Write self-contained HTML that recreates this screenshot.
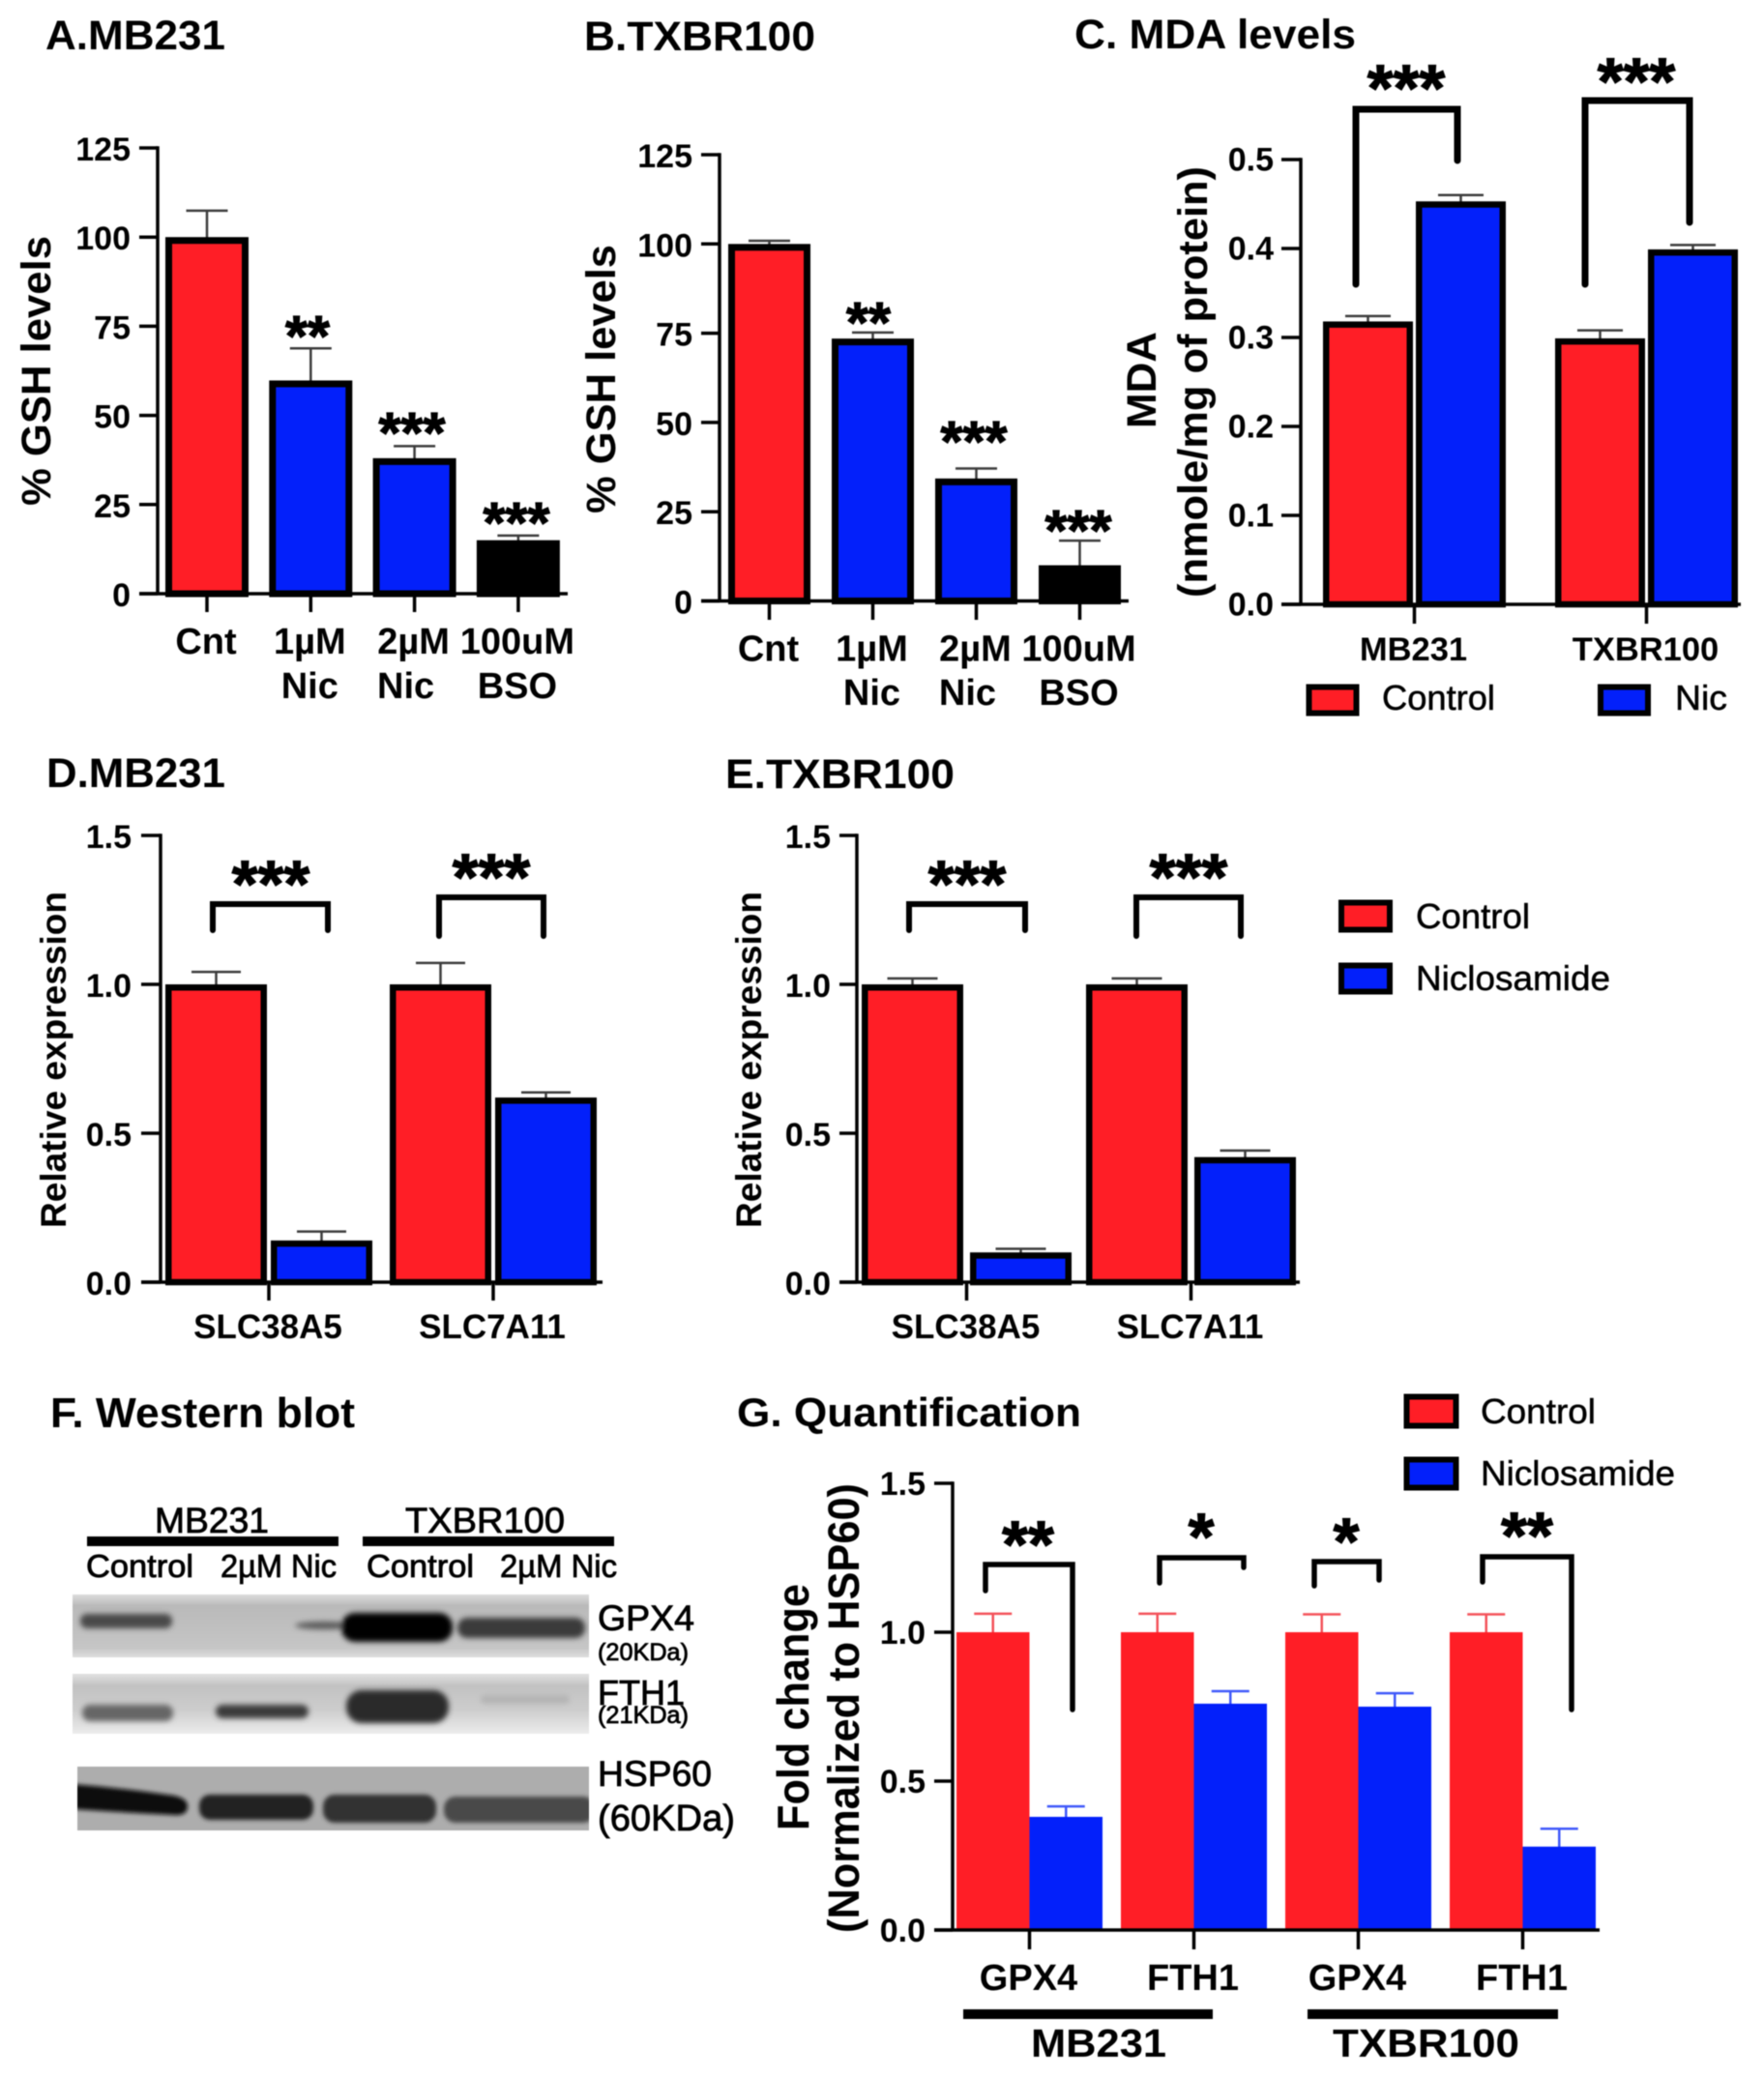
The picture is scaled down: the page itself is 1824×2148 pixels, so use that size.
<!DOCTYPE html>
<html lang="en">
<head>
<meta charset="utf-8">
<title>Niclosamide GSH, MDA and protein expression panels</title>
<style>
html,body{margin:0;padding:0;background:#fff;}
svg{display:block;filter:blur(0.6px);}
text{font-family:"Liberation Sans",sans-serif;fill:#000;}
.b{font-weight:700;}
.bracket{fill:none;stroke:#000;stroke-linecap:round;stroke-linejoin:miter;}
.med{stroke:#000;stroke-width:0.8px;}
.leg{stroke:#000;stroke-width:0.5px;}
.star{stroke:#000;stroke-width:1.2px;}
</style>
</head>
<body>
<svg id="figure" xmlns="http://www.w3.org/2000/svg" width="1824" height="2148" viewBox="0 0 1824 2148">
<defs>
<filter id="blot-blur" x="-20%" y="-80%" width="140%" height="260%"><feGaussianBlur stdDeviation="3"/></filter>
<filter id="edge-blur" x="-5%" y="-15%" width="110%" height="130%"><feGaussianBlur stdDeviation="2"/></filter>
<linearGradient id="blot-bg" x1="0" y1="0" x2="0" y2="1">
<stop offset="0" stop-color="#dcdcdc"/><stop offset="0.18" stop-color="#bababa"/><stop offset="0.55" stop-color="#c0c0c0"/><stop offset="0.85" stop-color="#c6c6c6"/><stop offset="1" stop-color="#dedede"/>
</linearGradient>
<linearGradient id="blot-bg2" x1="0" y1="0" x2="0" y2="1">
<stop offset="0" stop-color="#e2e2e2"/><stop offset="0.2" stop-color="#c2c2c2"/><stop offset="0.6" stop-color="#cdcdcd"/><stop offset="1" stop-color="#ececec"/>
</linearGradient>
<clipPath id="clip-gpx4"><rect x="75" y="1649" width="534" height="65"/></clipPath>
<clipPath id="clip-fth1"><rect x="75" y="1731" width="534" height="62"/></clipPath>
<clipPath id="clip-hsp60"><rect x="80" y="1827" width="529" height="66"/></clipPath>
</defs>

<!-- Panel titles -->
<text class="b" x="47" y="51" font-size="43" textLength="186" lengthAdjust="spacingAndGlyphs">A.MB231</text>
<text class="b" x="604" y="52" font-size="43" textLength="239" lengthAdjust="spacingAndGlyphs">B.TXBR100</text>
<text class="b" x="1111" y="50" font-size="43" textLength="291" lengthAdjust="spacingAndGlyphs">C. MDA levels</text>
<text class="b" x="48" y="814" font-size="43" textLength="185" lengthAdjust="spacingAndGlyphs">D.MB231</text>
<text class="b" x="750" y="815" font-size="43" textLength="237" lengthAdjust="spacingAndGlyphs">E.TXBR100</text>
<text class="b" x="52" y="1476" font-size="44" textLength="315" lengthAdjust="spacingAndGlyphs">F. Western blot</text>
<text class="b" x="762" y="1475" font-size="42" textLength="356" lengthAdjust="spacingAndGlyphs">G. Quantification</text>

<!-- Y-axis titles -->
<text class="b" transform="translate(52,523) rotate(-90)" font-size="43" textLength="279" lengthAdjust="spacingAndGlyphs">% GSH levels</text>
<text class="b" transform="translate(636,531) rotate(-90)" font-size="43" textLength="278" lengthAdjust="spacingAndGlyphs">% GSH levels</text>
<text class="b" transform="translate(1195,443) rotate(-90)" font-size="43" textLength="100" lengthAdjust="spacingAndGlyphs">MDA</text>
<text class="b" transform="translate(1248,618) rotate(-90)" font-size="43" textLength="446" lengthAdjust="spacingAndGlyphs">(nmole/mg of protein)</text>
<text class="b" transform="translate(68,1270) rotate(-90)" font-size="37" textLength="348" lengthAdjust="spacingAndGlyphs">Relative expression</text>
<text class="b" transform="translate(787,1270) rotate(-90)" font-size="37" textLength="348" lengthAdjust="spacingAndGlyphs">Relative expression</text>
<text class="b" transform="translate(836,1893) rotate(-90)" font-size="46" textLength="255" lengthAdjust="spacingAndGlyphs">Fold change</text>
<text class="b" transform="translate(888,1999) rotate(-90)" font-size="45" textLength="465" lengthAdjust="spacingAndGlyphs">(Normalized to HSP60)</text>

<!-- Chart plots filled by script -->
<g id="plot-a"></g>
<g id="plot-b"></g>
<g id="plot-c"></g>
<g id="plot-d"></g>
<g id="plot-e"></g>
<g id="plot-g"></g>

<!-- Significance stars -->
<g text-anchor="middle" font-size="59">
<text class="b star" x="318" y="368">**</text>
<text class="b star" x="426" y="468">***</text>
<text class="b star" x="534" y="561">***</text>
<text class="b star" x="898" y="354">**</text>
<text class="b star" x="1007" y="477">***</text>
<text class="b star" x="1115" y="569">***</text>
</g>
<g text-anchor="middle" font-size="69">
<text class="b star" x="1454" y="115">***</text>
<text class="b star" x="1692" y="108">***</text>
<text class="b star" x="280" y="938">***</text>
<text class="b star" x="508" y="931">***</text>
<text class="b star" x="1000" y="938">***</text>
<text class="b star" x="1229" y="931">***</text>
<text class="b star" x="1063" y="1621">**</text>
<text class="b star" x="1242" y="1613">*</text>
<text class="b star" x="1392" y="1618">*</text>
<text class="b star" x="1579" y="1612">**</text>
</g>

<!-- Brackets -->
<path class="bracket" stroke-width="7" d="M1402 294V113H1507V166"/>
<path class="bracket" stroke-width="7" d="M1639 294V104H1747V230"/>
<path class="bracket" stroke-width="6" d="M220 962V935H339V962"/>
<path class="bracket" stroke-width="6" d="M454 968V928H562V968"/>
<path class="bracket" stroke-width="6" d="M940 962V935H1060V962"/>
<path class="bracket" stroke-width="6" d="M1175 968V928H1283V968"/>
<path class="bracket" stroke-width="5.5" d="M1019 1645V1618H1109V1768"/>
<path class="bracket" stroke-width="5.5" d="M1199 1637V1611H1286V1621"/>
<path class="bracket" stroke-width="5.5" d="M1359 1640V1615H1426V1634"/>
<path class="bracket" stroke-width="5.5" d="M1533 1636V1610H1625V1768"/>

<!-- Legends -->
<g>
<rect x="1353.5" y="710.5" width="49" height="27" fill="#ff1e26" stroke="#000" stroke-width="6"/>
<text class="leg" x="1429" y="734" font-size="36" textLength="117" lengthAdjust="spacingAndGlyphs">Control</text>
<rect x="1655" y="710.5" width="49" height="27" fill="#0320fa" stroke="#000" stroke-width="6"/>
<text class="leg" x="1732" y="734" font-size="36" textLength="54" lengthAdjust="spacingAndGlyphs">Nic</text>
</g>
<g>
<rect x="1387" y="933.5" width="50" height="28" fill="#ff1e26" stroke="#000" stroke-width="6"/>
<text class="leg" x="1464" y="960" font-size="36" textLength="118" lengthAdjust="spacingAndGlyphs">Control</text>
<rect x="1387" y="998.5" width="50" height="27" fill="#0320fa" stroke="#000" stroke-width="6"/>
<text class="leg" x="1464" y="1024" font-size="36" textLength="201" lengthAdjust="spacingAndGlyphs">Niclosamide</text>
</g>
<g>
<rect x="1454.5" y="1444.5" width="51" height="30" fill="#ff1e26" stroke="#000" stroke-width="6"/>
<text class="leg" x="1531" y="1472" font-size="36" textLength="119" lengthAdjust="spacingAndGlyphs">Control</text>
<rect x="1454.5" y="1509.5" width="51" height="29" fill="#0320fa" stroke="#000" stroke-width="6"/>
<text class="leg" x="1531" y="1536" font-size="36" textLength="201" lengthAdjust="spacingAndGlyphs">Niclosamide</text>
</g>

<!-- Panel G cell line grouping -->
<rect x="996" y="2078" width="258" height="10" fill="#000"/>
<rect x="1352" y="2078" width="259" height="10" fill="#000"/>
<text class="b" x="1066" y="2127" font-size="41" textLength="140" lengthAdjust="spacingAndGlyphs">MB231</text>
<text class="b" x="1378" y="2127" font-size="41" textLength="193" lengthAdjust="spacingAndGlyphs">TXBR100</text>

<!-- Panel F western blot -->
<g>
<text class="med" x="160" y="1585" font-size="37" textLength="118" lengthAdjust="spacingAndGlyphs">MB231</text>
<text class="med" x="419" y="1585" font-size="37" textLength="165" lengthAdjust="spacingAndGlyphs">TXBR100</text>
<rect x="90" y="1589" width="260" height="10" fill="#000"/>
<rect x="375" y="1589" width="260" height="10" fill="#000"/>
<text class="med" x="89" y="1631" font-size="33" textLength="111" lengthAdjust="spacingAndGlyphs">Control</text>
<text class="med" x="228" y="1631" font-size="33" textLength="120" lengthAdjust="spacingAndGlyphs">2µM Nic</text>
<text class="med" x="379" y="1631" font-size="33" textLength="111" lengthAdjust="spacingAndGlyphs">Control</text>
<text class="med" x="517" y="1631" font-size="33" textLength="121" lengthAdjust="spacingAndGlyphs">2µM Nic</text>

<g clip-path="url(#clip-gpx4)">
<rect x="75" y="1649" width="534" height="65" fill="url(#blot-bg)"/>
<g filter="url(#blot-blur)">
<rect x="83" y="1669" width="95" height="15" rx="7" fill="#4a4a4a"/>
<ellipse cx="335" cy="1681" rx="30" ry="4" fill="#5a5a5a"/>
<rect x="353" y="1668" width="115" height="30" rx="14" fill="#000"/>
<rect x="473" y="1673" width="132" height="21" rx="10" fill="#3a3a3a"/>
</g>
</g>
<g clip-path="url(#clip-fth1)">
<rect x="75" y="1731" width="534" height="62" fill="url(#blot-bg2)"/>
<g filter="url(#blot-blur)">
<rect x="85" y="1763" width="94" height="17" rx="8" fill="#666"/>
<rect x="223" y="1763" width="96" height="14" rx="7" fill="#3a3a3a"/>
<rect x="358" y="1748" width="106" height="34" rx="16" fill="#2c2c2c"/>
<rect x="497" y="1753" width="92" height="9" rx="4" fill="#b4b4b4"/>
</g>
</g>
<g clip-path="url(#clip-hsp60)">
<rect x="80" y="1827" width="529" height="66" fill="#adadad"/>
<g filter="url(#edge-blur)">
<path d="M60 1844Q120 1848 180 1857Q194 1860 194 1868Q194 1878 180 1877Q120 1874 60 1870Z" fill="#0c0c0c"/>
<rect x="206" y="1856" width="118" height="26" rx="11" fill="#222"/>
<rect x="334" y="1856" width="117" height="29" rx="12" fill="#333"/>
<rect x="459" y="1858" width="156" height="27" rx="12" fill="#484848"/>
</g>
</g>
<text class="med" x="618" y="1686" font-size="37" textLength="100" lengthAdjust="spacingAndGlyphs">GPX4</text>
<text class="med" x="618" y="1717" font-size="25" textLength="94" lengthAdjust="spacingAndGlyphs">(20KDa)</text>
<text class="med" x="618" y="1763" font-size="36" textLength="90" lengthAdjust="spacingAndGlyphs">FTH1</text>
<text class="med" x="618" y="1782" font-size="25" textLength="94" lengthAdjust="spacingAndGlyphs">(21KDa)</text>
<text class="med" x="618" y="1847" font-size="37" textLength="118" lengthAdjust="spacingAndGlyphs">HSP60</text>
<text class="med" x="618" y="1893" font-size="38" textLength="142" lengthAdjust="spacingAndGlyphs">(60KDa)</text>
</g>
</svg>

<script>
// Panel A
const aCategories = [['Cnt'], ['1µM', 'Nic'], ['2µM', 'Nic'], ['100uM', 'BSO']];
const aTickLabels = ['0', '25', '50', '75', '100', '125'];
const aValues = [100, 59.8, 38, 15];
const aErrors = [7.4, 9, 3.4, 1.3];

// Panel B
const bCategories = [['Cnt'], ['1µM', 'Nic'], ['2µM', 'Nic'], ['100uM', 'BSO']];
const bTickLabels = ['0', '25', '50', '75', '100', '125'];
const bValues = [100, 73.5, 34.3, 10];
const bErrors = [0.9, 1.7, 2.8, 6.9];

// Panel C
const cCategories = [['MB231'], ['TXBR100']];
const cTickLabels = ['0.0', '0.1', '0.2', '0.3', '0.4', '0.5'];
const cControlValues = [0.318, 0.299];
const cControlErrors = [0.006, 0.009];
const cNicValues = [0.453, 0.399];
const cNicErrors = [0.007, 0.005];

// Panel D
const dCategories = [['SLC38A5'], ['SLC7A11']];
const dTickLabels = ['0.0', '0.5', '1.0', '1.5'];
const dControlValues = [1, 1];
const dControlErrors = [0.042, 0.072];
const dNicValues = [0.14, 0.62];
const dNicErrors = [0.03, 0.017];

// Panel E
const eCategories = [['SLC38A5'], ['SLC7A11']];
const eTickLabels = ['0.0', '0.5', '1.0', '1.5'];
const eControlValues = [1, 1];
const eControlErrors = [0.02, 0.02];
const eNicValues = [0.1, 0.42];
const eNicErrors = [0.012, 0.022];

// Panel G
const gCategories = [['GPX4'], ['FTH1'], ['GPX4'], ['FTH1']];
const gTickLabels = ['0.0', '0.5', '1.0', '1.5'];
const gControlValues = [1, 1, 1, 1];
const gControlErrors = [0.062, 0.062, 0.06, 0.06];
const gNicValues = [0.38, 0.76, 0.75, 0.28];
const gNicErrors = [0.035, 0.042, 0.045, 0.06];

const RED = '#ff1e26';
const BLUE = '#0320fa';
const BLACK = '#000000';
const NS = 'http://www.w3.org/2000/svg';

function make(tag, attrs, parent) {
  const node = document.createElementNS(NS, tag);
  for (const key in attrs) node.setAttribute(key, attrs[key]);
  parent.appendChild(node);
  return node;
}

function drawChart(o) {
  const root = document.getElementById(o.root);
  const yScale = function (v) {
    return o.yBottom - (v / o.yMax) * (o.yBottom - o.yTop);
  };
  const barLeft = function (g, s) {
    return o.start + g * o.groupStep + s * o.barStep;
  };
  const groupCenter = function (g) {
    return o.start + g * o.groupStep + ((o.series.length - 1) * o.barStep + o.barWidth) / 2;
  };

  o.series.forEach(function (ser, s) {
    ser.values.forEach(function (value, g) {
      const x = barLeft(g, s);
      const y = yScale(value);
      const cx = x + o.barWidth / 2;
      const yTopErr = yScale(value + ser.errors[g]);
      const color = o.errorColor ? o.errorColor(s) : '#3c3c3c';

      const stem = make('line', { x1: cx, x2: cx, y1: y + 2, y2: yTopErr, stroke: color, 'stroke-width': o.errWidth }, root);
      
      

      const cap = make('line', { x1: cx - o.capWidth / 2, x2: cx + o.capWidth / 2, y1: yTopErr, y2: yTopErr, stroke: color, 'stroke-width': o.errWidth }, root);
      
      

      const sw = o.barStroke;
      const bar = make('rect', {
        x: x + sw / 2,
        y: y + sw / 2,
        width: o.barWidth - sw,
        height: Math.max(0, o.yBottom - y - sw / 2),
        fill: o.fill(g, s),
        stroke: sw ? '#000' : 'none',
        'stroke-width': sw
      }, root);
      
      
    });
  });

  const yAxis = make('line', { x1: o.axisX, x2: o.axisX, y1: o.yTop - o.axisWidth / 2, y2: o.yBottom, stroke: '#000', 'stroke-width': o.axisWidth }, root);
  
  

  const xAxis = make('line', { x1: o.tickLeft, x2: o.xEnd, y1: o.yBottom, y2: o.yBottom, stroke: '#000', 'stroke-width': o.axisWidth }, root);
  
  

  o.tickLabels.forEach(function (label) {
    const y = yScale(parseFloat(label));
    const tick = make('line', { x1: o.tickLeft, x2: o.axisX, y1: y, y2: y, stroke: '#000', 'stroke-width': o.axisWidth }, root);
    
    

    const text = make('text', { x: o.labelRight, y: y + o.labelDrop, 'text-anchor': 'end', 'font-size': 34, class: 'b' }, root);
    text.textContent = label;
    
    
  });

  o.categories.forEach(function (lines, g) {
    const cx = groupCenter(g);
    const tick = make('line', { x1: cx, x2: cx, y1: o.yBottom, y2: o.tickBottom, stroke: '#000', 'stroke-width': o.axisWidth }, root);
    
    

    lines.forEach(function (line, n) {
      const shift = o.labelShift ? o.labelShift(g, n) : 0;
      const text = make('text', { x: cx + shift - 1, y: o.catBaseline + n * o.catLine, 'text-anchor': 'middle', 'font-size': o.catSize, class: 'b' }, root);
      text.textContent = line;
      
      
    });
  });
}

function drugFill(g) {
  return g === 0 ? RED : (g === 3 ? BLACK : BLUE);
}
function seriesFill(g, s) {
  return s === 0 ? RED : BLUE;
}
function nicShift(g, n) {
  return g === 2 && n === 1 ? -8 : 0;
}

drawChart({
  key: 'panel-a', root: 'plot-a', categories: aCategories, tickLabels: aTickLabels,
  series: [{ values: aValues, errors: aErrors }], fill: drugFill, labelShift: nicShift,
  yMax: 125, yTop: 153, yBottom: 614, axisX: 163, tickLeft: 144, xEnd: 587, tickBottom: 633,
  start: 171, groupStep: 107.3, barStep: 0, barWidth: 86, barStroke: 7,
  capWidth: 43, errWidth: 2.5, axisWidth: 3.5, labelRight: 135, labelDrop: 13,
  catBaseline: 676, catLine: 46, catSize: 38
});
drawChart({
  key: 'panel-b', root: 'plot-b', categories: bCategories, tickLabels: bTickLabels,
  series: [{ values: bValues, errors: bErrors }], fill: drugFill, labelShift: nicShift,
  yMax: 125, yTop: 160, yBottom: 621.5, axisX: 744, tickLeft: 725, xEnd: 1167, tickBottom: 641,
  start: 753, groupStep: 107, barStep: 0, barWidth: 85, barStroke: 7,
  capWidth: 43, errWidth: 2.5, axisWidth: 3.5, labelRight: 716, labelDrop: 13,
  catBaseline: 683.5, catLine: 45.5, catSize: 38
});
drawChart({
  key: 'panel-c', root: 'plot-c', categories: cCategories, tickLabels: cTickLabels,
  series: [{ values: cControlValues, errors: cControlErrors }, { values: cNicValues, errors: cNicErrors }], fill: seriesFill,
  yMax: 0.5, yTop: 165, yBottom: 625, axisX: 1345, tickLeft: 1325, xEnd: 1800, tickBottom: 645,
  start: 1368, groupStep: 240, barStep: 96, barWidth: 93, barStroke: 6.5,
  capWidth: 47, errWidth: 2.5, axisWidth: 3.5, labelRight: 1317, labelDrop: 11.5,
  catBaseline: 683, catLine: 0, catSize: 34.5
});
drawChart({
  key: 'panel-d', root: 'plot-d', categories: dCategories, tickLabels: dTickLabels,
  series: [{ values: dControlValues, errors: dControlErrors }, { values: dNicValues, errors: dNicErrors }], fill: seriesFill,
  yMax: 1.5, yTop: 864, yBottom: 1326, axisX: 166, tickLeft: 146, xEnd: 623, tickBottom: 1345,
  start: 171, groupStep: 232, barStep: 109, barWidth: 105, barStroke: 6.5,
  capWidth: 51, errWidth: 2.5, axisWidth: 3.5, labelRight: 136, labelDrop: 13,
  catBaseline: 1384, catLine: 0, catSize: 35
});
drawChart({
  key: 'panel-e', root: 'plot-e', categories: eCategories, tickLabels: eTickLabels,
  series: [{ values: eControlValues, errors: eControlErrors }, { values: eNicValues, errors: eNicErrors }], fill: seriesFill,
  yMax: 1.5, yTop: 864, yBottom: 1326, axisX: 886, tickLeft: 868, xEnd: 1344, tickBottom: 1345,
  start: 891, groupStep: 232, barStep: 112, barWidth: 105, barStroke: 6.5,
  capWidth: 52, errWidth: 2.5, axisWidth: 3.5, labelRight: 859, labelDrop: 13,
  catBaseline: 1384, catLine: 0, catSize: 35
});
drawChart({
  key: 'panel-g', root: 'plot-g', categories: gCategories, tickLabels: gTickLabels,
  series: [{ values: gControlValues, errors: gControlErrors }, { values: gNicValues, errors: gNicErrors }], fill: seriesFill,
  errorColor: function (s) { return s === 0 ? '#f4525a' : '#3f58fa'; },
  yMax: 1.5, yTop: 1534, yBottom: 1996, axisX: 985, tickLeft: 966, xEnd: 1654, tickBottom: 2016,
  start: 989, groupStep: 170, barStep: 75.5, barWidth: 75.5, barStroke: 0,
  capWidth: 39, errWidth: 2.5, axisWidth: 3.5, labelRight: 957, labelDrop: 12,
  catBaseline: 2058, catLine: 0, catSize: 38
});
</script>
</body>
</html>
